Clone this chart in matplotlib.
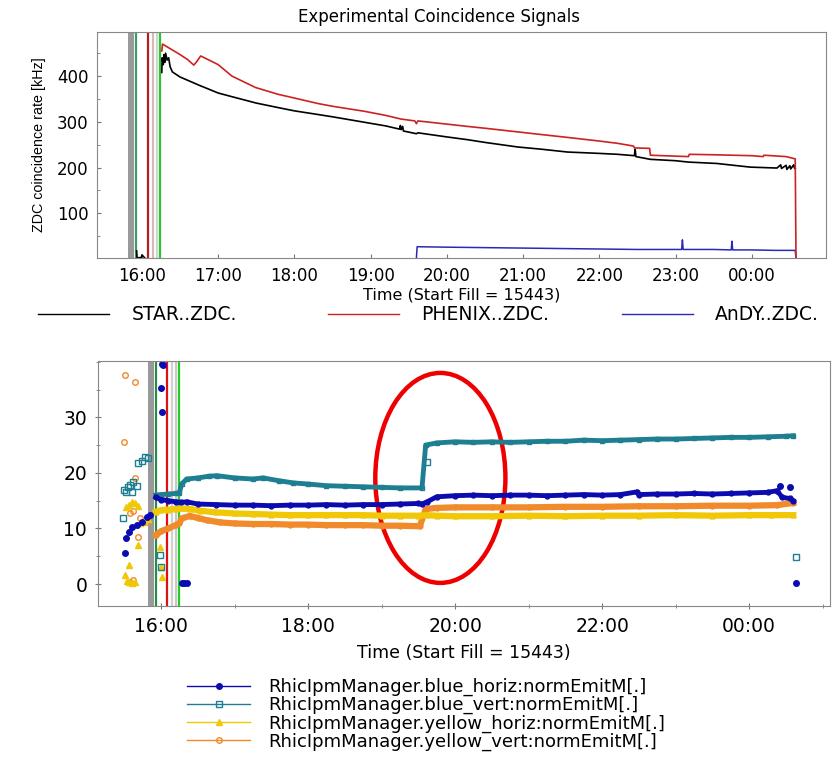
import numpy as np
import matplotlib
matplotlib.use("Agg")
from matplotlib import pyplot as plt
from matplotlib.lines import Line2D
from matplotlib.patches import Ellipse
from matplotlib.ticker import FuncFormatter, MultipleLocator

plt.rcParams['font.family'] = ['DejaVu Sans']

nan = np.nan

# ---- top panel: ZDC coincidence rates (time in hours, 24.5 = 00:30) ----
t_star = [15.93, 15.935, 15.99, 16.0, 16.04, 16.1, 16.26, 16.265, 16.28, 16.29, 16.30,
          16.31, 16.33, 16.35, 16.37, 16.40, 16.50, 16.75, 17.00, 17.18, 17.50, 17.79,
          18.00, 18.31, 18.50, 18.92, 19.20, 19.38, 19.39, 19.40, 19.42, 19.43, 19.60,
          19.62, 20.00, 20.27, 20.50, 20.93, 21.25, 21.58, 22.00, 22.24, 22.46, 22.47,
          22.48, 22.67, 23.00, 23.17, 23.54, 23.98, 24.33, 24.38, 24.39, 24.45, 24.46,
          24.50, 24.51, 24.55, 24.56, 24.57]
v_star = [18, 3, 3, 9, 2, nan, 408, 440, 425, 447, 430,
          450, 435, 440, 420, 409, 398, 380, 363, 355, 341, 331,
          324, 316, 311, 299, 291, 284, 292, 283, 290, 280, 274,
          276, 267, 261, 255, 245, 240, 234, 231, 229, 226, 240,
          224, 218, 215, 212, 209, 201, 199, 206, 198, 205, 196,
          204, 197, 206, 199, 198]

t_phenix = [16.26, 16.27, 16.40, 16.50, 16.60, 16.68, 16.72, 16.77, 16.88, 17.00,
            17.18, 17.49, 17.79, 18.00, 18.31, 18.50, 18.92, 19.20, 19.40, 19.58,
            19.60, 19.62, 20.00, 20.27, 20.50, 20.93, 21.25, 21.58, 22.00, 22.24,
            22.45, 22.46, 22.66, 22.67, 23.00, 23.17, 23.18, 23.50, 24.00, 24.15,
            24.16, 24.45, 24.57, 24.58]
v_phenix = [455, 470, 457, 447, 436, 424, 432, 444, 435, 425,
            400, 375, 360, 352, 340, 334, 323, 314, 306, 302,
            296, 302, 295, 290, 286, 278, 272, 266, 258, 253,
            247, 243, 242, 227, 225, 224, 229, 228, 226, 224,
            227, 224, 219, 2]

t_andy = [19.60, 19.61, 20.00, 20.50, 21.00, 21.50, 22.00, 22.50, 23.08, 23.09,
          23.10, 23.50, 23.73, 23.74, 23.75, 24.00, 24.30, 24.57, 24.58]
v_andy = [2, 27, 26, 25, 24, 23, 22, 21, 21, 42,
          21, 21, 20, 39, 20, 20, 19, 19, 2]

# vertical markers around injection / ramp
band_t = (15.82, 15.90)
vline_t = [15.925, 16.075, 16.145, 16.195, 16.24]

# ---- bottom panel: IPM normalized emittances ----
t_bh = [15.93, 16.00, 16.10, 16.20, 16.27, 16.35, 16.50, 16.75, 17.00, 17.25, 17.50,
        17.75, 18.00, 18.25, 18.50, 18.75, 19.00, 19.25, 19.50, 19.55, 19.62, 19.75,
        20.00, 20.25, 20.50, 20.75, 21.00, 21.25, 21.50, 21.75, 22.00, 22.25, 22.48,
        22.50, 22.75, 23.00, 23.25, 23.50, 23.75, 24.00, 24.25, 24.38, 24.45, 24.55, 24.60]
v_bh = [15.6, 15.2, 15.0, 14.8, 14.7, 14.8, 14.4, 14.3, 14.2, 14.2, 14.1,
        14.2, 14.2, 14.3, 14.2, 14.3, 14.3, 14.4, 14.5, 14.4, 14.8, 15.7,
        15.9, 16.0, 15.9, 16.0, 16.0, 15.9, 16.0, 16.1, 16.0, 16.1, 16.6,
        16.1, 16.2, 16.2, 16.3, 16.2, 16.3, 16.4, 16.5, 16.8, 15.6, 15.4, 15.0]
t_bh_x = [15.51, 15.52, 15.56, 15.60, 15.67, 15.74, 15.81, 15.85, 16.00, 16.01, 16.025,
          16.02, 16.28, 16.31, 16.35, 24.42, 24.56, 24.635]
v_bh_x = [5.5, 8.3, 9.4, 10.3, 10.6, 11.2, 12.1, 12.4, 35.3, 39.6, 39.4,
          31.0, 0.1, 0.2, 0.2, 17.7, 17.5, 0.1]

t_bv = [15.93, 16.00, 16.10, 16.20, 16.25, 16.28, 16.35, 16.50, 16.65, 16.76, 17.00,
        17.25, 17.39, 17.60, 17.80, 18.00, 18.25, 18.50, 18.75, 19.00, 19.25, 19.55,
        19.60, 19.75, 20.00, 20.25, 20.50, 20.75, 21.00, 21.25, 21.50, 21.75, 22.00,
        22.25, 22.50, 22.75, 23.00, 23.25, 23.50, 23.75, 24.00, 24.25, 24.50, 24.60]
v_bv = [16.0, 16.1, 16.2, 16.3, 16.4, 18.0, 18.9, 19.1, 19.4, 19.5, 19.1,
        18.9, 19.1, 18.6, 18.2, 18.0, 17.7, 17.6, 17.5, 17.4, 17.3, 17.3,
        25.0, 25.4, 25.6, 25.5, 25.6, 25.5, 25.6, 25.7, 25.7, 25.9, 25.8,
        25.9, 26.0, 26.1, 26.1, 26.2, 26.3, 26.4, 26.4, 26.5, 26.6, 26.7]
t_bv_x = [15.49, 15.50, 15.52, 15.55, 15.58, 15.60, 15.62, 15.67, 15.69, 15.74, 15.78,
          15.82, 15.98, 16.00, 19.615, 24.635]
v_bv_x = [11.8, 16.9, 16.6, 17.4, 17.8, 16.6, 18.4, 17.6, 21.7, 22.1, 22.9,
          22.6, 5.2, 3.1, 22.0, 4.9]

t_yh = [15.93, 16.00, 16.10, 16.20, 16.28, 16.40, 16.53, 16.75, 17.00, 17.25, 17.50,
        17.75, 18.00, 18.25, 18.50, 18.75, 19.00, 19.25, 19.50, 19.62, 19.75, 20.00,
        20.50, 21.00, 21.50, 22.00, 22.50, 23.00, 23.50, 24.00, 24.30, 24.60]
v_yh = [13.0, 13.3, 13.4, 13.5, 13.6, 13.5, 13.2, 12.9, 12.7, 12.6, 12.5,
        12.4, 12.4, 12.4, 12.4, 12.4, 12.3, 12.3, 12.3, 12.4, 12.3, 12.2,
        12.2, 12.3, 12.2, 12.3, 12.3, 12.4, 12.3, 12.4, 12.4, 12.4]
t_yh_x = [15.51, 15.54, 15.56, 15.60, 15.65, 15.56, 15.69, 15.53, 15.56, 15.60, 15.65,
          15.69, 15.71, 15.76, 15.83, 15.99, 15.995, 16.02]
v_yh_x = [1.6, 0.6, 0.4, 0.2, 0.4, 3.5, 7.0, 13.8, 14.2, 14.8, 14.5,
          14.0, 10.9, 11.2, 11.7, 6.7, 3.1, 1.3]

t_yv = [15.93, 16.00, 16.10, 16.20, 16.25, 16.28, 16.39, 16.50, 16.62, 16.80, 17.00,
        17.25, 17.50, 17.75, 18.00, 18.25, 18.50, 18.75, 19.00, 19.25, 19.52, 19.60,
        19.75, 20.00, 20.50, 21.00, 21.50, 22.00, 22.50, 23.00, 23.50, 24.00, 24.38, 24.60]
v_yv = [8.8, 9.5, 10.0, 10.6, 10.9, 11.8, 12.25, 11.9, 11.5, 11.1, 10.9,
        10.8, 10.8, 10.7, 10.7, 10.6, 10.6, 10.6, 10.5, 10.5, 10.4, 13.5,
        13.7, 13.8, 13.8, 13.8, 13.9, 13.9, 14.0, 14.0, 14.1, 14.1, 14.2, 14.6]
t_yv_x = [15.51, 15.65, 15.50, 15.65, 15.58, 15.69, 15.71, 15.78, 15.83, 15.58, 15.62, 15.62]
v_yv_x = [37.7, 36.3, 25.6, 19.0, 12.7, 8.5, 11.8, 11.5, 11.2, 0.4, 0.7, 13.2]

labels_top = ['STAR..ZDC.', 'PHENIX..ZDC.', 'AnDY..ZDC.']
labels_bot = ['RhicIpmManager.blue_horiz:normEmitM[.]',
              'RhicIpmManager.blue_vert:normEmitM[.]',
              'RhicIpmManager.yellow_horiz:normEmitM[.]',
              'RhicIpmManager.yellow_vert:normEmitM[.]']


def hhmm(h, pos=None):
    return '%02d:00' % (int(round(h)) % 24)


fig = plt.figure(figsize=(8.4, 7.57), dpi=100)

# ================= top =================
ax1 = fig.add_axes([0.1151, 0.6588, 0.8679, 0.2993])
ax1.axvspan(band_t[0], band_t[1], color='#999999', lw=0)
for t, c in zip(vline_t, ['#3a9a6a', '#b02020', '#d8b8b8', '#c8dcc8', '#30c030']):
    ax1.axvline(t, color=c, lw=1.6)
ax1.plot(t_andy, v_andy, color='#2a2ab8', lw=1.1)
ax1.plot(t_star, v_star, color='black', lw=1.2)
ax1.plot(t_phenix, v_phenix, color='#cc2222', lw=1.2)

ax1.set_xlim(15.406, 24.97)
ax1.set_ylim(1.7, 497)
ax1.xaxis.set_major_locator(MultipleLocator(1))
ax1.xaxis.set_major_formatter(FuncFormatter(hhmm))
ax1.yaxis.set_minor_locator(MultipleLocator(50))
ax1.set_yticks([100, 200, 300, 400])
ax1.tick_params(direction='in', length=3, labelsize=12, color='#777777', pad=6)
ax1.tick_params(which='minor', direction='in', length=2, color='#777777')
for s in ax1.spines.values():
    s.set_color('#888888')
ax1.set_title('Experimental Coincidence Signals', fontsize=12, x=0.47, pad=7)
ax1.set_xlabel('Time (Start Fill = 15443)', fontsize=11.5, labelpad=2)
ax1.set_ylabel('ZDC coincidence rate [kHz]', fontsize=10.3,
               family=['Liberation Sans', 'DejaVu Sans'], labelpad=8)

# three separate legend entries so each column sits where the original has it
top_colors = ['black', '#cc2222', '#2a2ab8']
top_x = [0.045, 0.390, 0.740]
for lab, c, x in zip(labels_top, top_colors, top_x):
    fig.legend([Line2D([], [], color=c, lw=1)], [lab], loc='center left',
               bbox_to_anchor=(x, 0.584), frameon=False, fontsize=13.5,
               handlelength=3.8, handletextpad=1.2, borderpad=0, borderaxespad=0)

# ================= bottom =================
ax2 = fig.add_axes([0.1170, 0.1999, 0.8711, 0.3236])
ax2.axvspan(band_t[0] + 0.01, band_t[1] + 0.01, color='#999999', lw=0)
for t, c in zip(vline_t, ['#2a8a4a', '#dd1111', '#d0d0d0', '#c8c8c8', '#22cc22']):
    ax2.axvline(t + 0.005, color=c, lw=1.6)

c_bh, c_bv, c_yh, c_yv = '#0b0bb0', '#1e7f92', '#f0c808', '#f08a2a'
ax2.plot(t_yv, v_yv, color=c_yv, lw=4.5, marker='o', ms=3.5, mfc='none')
ax2.plot(t_yh, v_yh, color=c_yh, lw=4.5, marker='^', ms=3.5)
ax2.plot(t_bv, v_bv, color=c_bv, lw=3.5, marker='s', ms=3.5, mfc='none')
ax2.plot(t_bh, v_bh, color=c_bh, lw=3.5, marker='o', ms=3.5)
ax2.plot(t_yv_x, v_yv_x, ls='none', color=c_yv, marker='o', ms=4, mfc='none')
ax2.plot(t_yh_x, v_yh_x, ls='none', color=c_yh, marker='^', ms=4)
ax2.plot(t_bv_x, v_bv_x, ls='none', color=c_bv, marker='s', ms=4, mfc='none')
ax2.plot(t_bh_x, v_bh_x, ls='none', color=c_bh, marker='o', ms=4)

ax2.add_patch(Ellipse((19.80, 19.1), 1.77, 37.8, fill=False, edgecolor='#ee0000', lw=3.2))

ax2.set_xlim(15.147, 25.10)
ax2.set_ylim(-3.9, 40.2)
ax2.xaxis.set_major_locator(MultipleLocator(2))
ax2.xaxis.set_minor_locator(MultipleLocator(1))
ax2.xaxis.set_major_formatter(FuncFormatter(hhmm))
ax2.yaxis.set_minor_locator(MultipleLocator(5))
ax2.set_yticks([0, 10, 20, 30])
ax2.tick_params(direction='inout', length=4, labelsize=13.5, color='#777777', pad=6)
ax2.tick_params(which='minor', direction='inout', length=3, color='#777777')
for s in ax2.spines.values():
    s.set_color('#888888')
ax2.set_xlabel('Time (Start Fill = 15443)', fontsize=12.5, labelpad=6)

bot_handles = [Line2D([], [], color=c_bh, lw=1, marker='o', ms=4),
               Line2D([], [], color=c_bv, lw=1, marker='s', ms=4, mfc='none'),
               Line2D([], [], color=c_yh, lw=1, marker='^', ms=4),
               Line2D([], [], color=c_yv, lw=1, marker='o', ms=4, mfc='none')]
fig.legend(bot_handles, labels_bot, loc='center left', bbox_to_anchor=(0.2226, 0.0562),
           frameon=False, fontsize=13, handlelength=3.5, handletextpad=1.0,
           labelspacing=0.0, numpoints=1, borderpad=0, borderaxespad=0)

plt.savefig('out.png', dpi=100)
